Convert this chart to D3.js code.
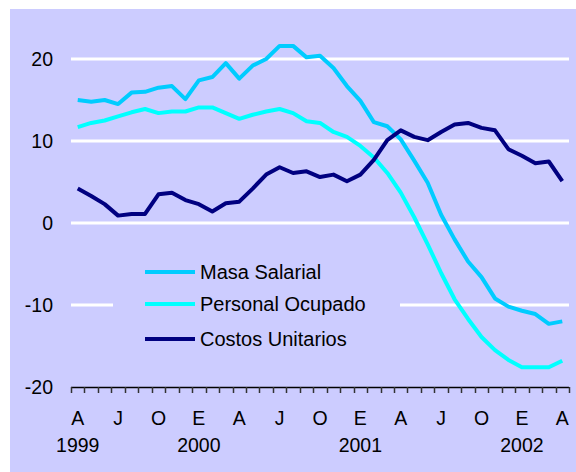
<!DOCTYPE html>
<html lang="es">
<head>
<meta charset="utf-8">
<title>masa salarial</title>
<script src="https://d3js.org/d3.v7.min.js"></script>
<style type="text/css">
  body { margin: 0; background: #fff; }
  text { font-family: "Liberation Sans", Arial, sans-serif; fill: #000; }
  .serie { fill: none; stroke-width: 4px; stroke-linejoin: round; }
</style>
</head>
<body>
<script type="text/javascript">

var w = 576;
var h = 472;

// months from April 1999 to April 2002
var periodos = ["1999-04","1999-05","1999-06","1999-07","1999-08","1999-09","1999-10","1999-11","1999-12",
  "2000-01","2000-02","2000-03","2000-04","2000-05","2000-06","2000-07","2000-08","2000-09","2000-10","2000-11","2000-12",
  "2001-01","2001-02","2001-03","2001-04","2001-05","2001-06","2001-07","2001-08","2001-09","2001-10","2001-11","2001-12",
  "2002-01","2002-02","2002-03","2002-04"];

var masaSalarial = [15.0, 14.8, 15.0, 14.5, 15.9, 16.0, 16.5, 16.7, 15.1,
  17.4, 17.8, 19.5, 17.6, 19.2, 20.0, 21.6, 21.6, 20.2, 20.4, 18.9, 16.7,
  14.9, 12.3, 11.8, 10.2, 7.6, 4.9, 1.0, -2.0, -4.7, -6.6, -9.2, -10.2,
  -10.7, -11.1, -12.3, -12.0];

var personalOcupado = [11.7, 12.2, 12.5, 13.0, 13.5, 13.9, 13.4, 13.6, 13.6,
  14.1, 14.1, 13.4, 12.7, 13.2, 13.6, 13.9, 13.4, 12.4, 12.2, 11.1, 10.5,
  9.4, 8.0, 6.1, 3.7, 0.7, -2.6, -6.1, -9.3, -11.7, -13.9, -15.5, -16.7,
  -17.6, -17.6, -17.6, -16.8];

var costosUnitarios = [4.2, 3.3, 2.3, 0.9, 1.1, 1.1, 3.5, 3.7, 2.8,
  2.3, 1.4, 2.4, 2.6, 4.2, 5.9, 6.8, 6.1, 6.3, 5.6, 5.9, 5.1,
  5.9, 7.7, 10.1, 11.3, 10.5, 10.1, 11.1, 12.0, 12.2, 11.6, 11.3, 9.0,
  8.2, 7.3, 7.5, 5.1];

var nombres = ["Masa Salarial", "Personal Ocupado", "Costos Unitarios"];
var colores = ["#00ccff", "#00ffff", "#000080"];

var yTicks = [20, 10, 0, -10, -20];
var mesLabels = ["A","J","O","E","A","J","O","E","A","J","O","E","A"];
var mesLabelAt = ["1999-04","1999-07","1999-10","2000-01","2000-04","2000-07","2000-10",
  "2001-01","2001-04","2001-07","2001-10","2002-01","2002-04"];
var anioLabels = ["1999", "2000", "2001", "2002"];
var anioLabelAt = ["1999-04", "2000-01", "2001-01", "2002-01"];

var margin = {top: 18, right: 7, bottom: 85, left: 71};
var innerWidth = w - margin.left - margin.right;
var innerHeight = h - margin.top - margin.bottom;

var svg = d3.select("body")
            .append("svg")
            .attr("width", w)
            .attr("height", h);

// lavender panel
svg.append("rect")
   .attr("x", 10)
   .attr("y", 9)
   .attr("width", w - 10)
   .attr("height", h - 9)
   .attr("fill", "#ccccff");

var xScale = d3.scaleBand()
               .domain(periodos)
               .range([0, innerWidth]);

var yScale = d3.scaleLinear()
               .domain([-20, 25])
               .range([innerHeight, 0]);

var xMid = d => xScale(d) + xScale.bandwidth() / 2;

var g = svg.append("g")
           .attr("transform", `translate(${margin.left}, ${margin.top})`);

// white gridlines (not at -20, that one is the axis)
g.selectAll("line.grid")
 .data(yTicks.filter(d => d > -20))
 .enter()
 .append("line")
 .attr("class", "grid")
 .attr("x1", 0)
 .attr("x2", innerWidth)
 .attr("y1", d => yScale(d))
 .attr("y2", d => yScale(d))
 .attr("stroke", "#fff")
 .attr("stroke-width", 3);

// y labels
g.selectAll("text.ylab")
 .data(yTicks)
 .enter()
 .append("text")
 .attr("class", "ylab")
 .attr("x", -18)
 .attr("y", d => yScale(d))
 .attr("dy", "0.35em")
 .attr("text-anchor", "end")
 .attr("font-size", "19.5px")
 .text(d => d);

// x axis line and month ticks on band edges
g.append("line")
 .attr("x1", 0)
 .attr("x2", innerWidth)
 .attr("y1", innerHeight + 0.5)
 .attr("y2", innerHeight + 0.5)
 .attr("stroke", "#000")
 .attr("stroke-width", 1.5);

var edges = periodos.map(d => xScale(d)).concat([innerWidth]);
g.selectAll("line.mtick")
 .data(edges)
 .enter()
 .append("line")
 .attr("class", "mtick")
 .attr("x1", d => Math.round(d) + 0.5)
 .attr("x2", d => Math.round(d) + 0.5)
 .attr("y1", innerHeight)
 .attr("y2", innerHeight + 6)
 .attr("stroke", "#333")
 .attr("stroke-width", 1.5);

g.selectAll("text.mes")
 .data(mesLabels)
 .enter()
 .append("text")
 .attr("class", "mes")
 .attr("x", (d, i) => xMid(mesLabelAt[i]))
 .attr("y", innerHeight + 38)
 .attr("text-anchor", "middle")
 .attr("font-size", "19.5px")
 .text(d => d);

g.selectAll("text.anio")
 .data(anioLabels)
 .enter()
 .append("text")
 .attr("class", "anio")
 .attr("x", (d, i) => xMid(anioLabelAt[i]))
 .attr("y", innerHeight + 65)
 .attr("text-anchor", "middle")
 .attr("font-size", "19.5px")
 .text(d => d);

// legend box hides the gridline behind it
var legend = g.append("g")
              .attr("transform", "translate(42, 232)");

legend.append("rect")
      .attr("x", 0)
      .attr("y", 0)
      .attr("width", 287)
      .attr("height", 105)
      .attr("fill", "#ccccff");

var series = [masaSalarial, personalOcupado, costosUnitarios];

var lineGen = d3.line()
                .x((d, i) => xMid(periodos[i]))
                .y(d => yScale(d));

g.selectAll("path.serie")
 .data(series)
 .enter()
 .append("path")
 .attr("class", "serie")
 .attr("stroke", (d, i) => colores[i])
 .attr("d", lineGen);

var legendY = [22, 54, 89];
nombres.forEach(function(n, i) {
  legend.append("line")
        .attr("x1", 32)
        .attr("x2", 82)
        .attr("y1", legendY[i])
        .attr("y2", legendY[i])
        .attr("stroke", colores[i])
        .attr("stroke-width", 4);
  legend.append("text")
        .attr("x", 87)
        .attr("y", legendY[i])
        .attr("dy", "0.35em")
        .attr("font-size", "20px")
        .text(n);
});

</script>
</body>
</html>
